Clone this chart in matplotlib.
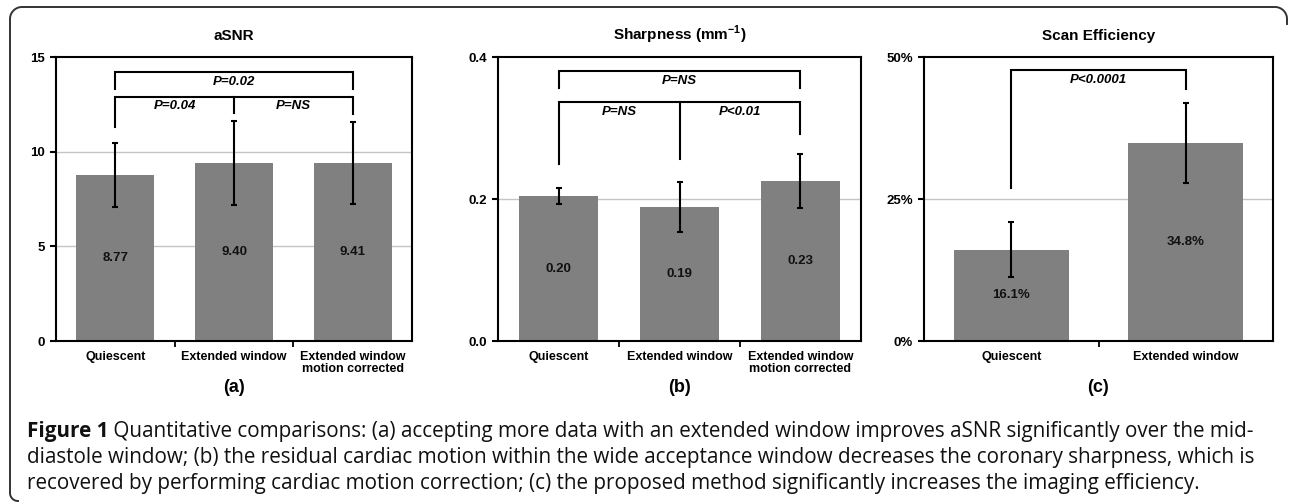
import matplotlib.pyplot as plt
from matplotlib.lines import Line2D
from matplotlib.transforms import IdentityTransform
import numpy as np

plt.rcParams['font.family'] = ['Liberation Sans', 'DejaVu Sans']
plt.rcParams['mathtext.fontset'] = 'custom'
plt.rcParams['mathtext.bf'] = 'Liberation Sans:bold'
plt.rcParams['mathtext.rm'] = 'Liberation Sans'

# Data
cats_3 = ['Quiescent', 'Extended window', 'Extended window\nmotion corrected']
cats_2 = ['Quiescent', 'Extended window']

asnr_mean = [8.77, 9.40, 9.41]
asnr_err = [1.7, 2.2, 2.15]
asnr_labels = ['8.77', '9.40', '9.41']

sharp_mean = [0.204, 0.189, 0.226]
sharp_err = [0.011, 0.035, 0.038]
sharp_labels = ['0.20', '0.19', '0.23']

eff_mean = [16.1, 34.9]
eff_err = [4.8, 7.0]
eff_labels = ['16.1%', '34.8%']

# brackets: (x0, x1, y, y_left_end, y_right_end, label, label_x, label_y, mid_x, mid_end)
asnr_brackets = [
    (0, 2, 14.2, 13.3, 13.3, 'P=0.02', 1.0, 13.7, None, None),
    (0, 2, 12.9, 11.3, 12.0, None, None, None, 1, 12.05),
]
asnr_plabels = [('P=0.04', 0.5, 12.4), ('P=NS', 1.5, 12.4)]

sharp_brackets = [
    (0, 2, 0.380, 0.357, 0.357, 'P=NS', 1.0, 0.366, None, None),
    (0, 2, 0.336, 0.249, 0.291, None, None, None, 1, 0.257),
]
sharp_plabels = [('P=NS', 0.5, 0.322), ('P<0.01', 1.5, 0.322)]

eff_brackets = [
    (0, 1, 47.7, 27.0, 44.3, 'P<0.0001', 0.5, 45.9, None, None),
]
eff_plabels = []

caption_bold = 'Figure 1'
caption_lines = [
    ' Quantitative comparisons: (a) accepting more data with an extended window '
    'improves aSNR significantly over the mid-',
    'diastole window; (b) the residual cardiac motion within the wide acceptance '
    'window decreases the coronary sharpness, which is',
    'recovered by performing cardiac motion correction; (c) the proposed method '
    'significantly increases the imaging efficiency.',
]

W, H = 1290, 503
fig = plt.figure(figsize=(W / 100, H / 100), dpi=100)
fig.patch.set_facecolor('white')


# Outer frame (top and left border with rounded corners), pixel coords from top
def arc(cx, cy, r, a0, a1, n=20):
    t = np.radians(np.linspace(a0, a1, n))
    return cx + r * np.cos(t), cy - r * np.sin(t)


r = 12
xs, ys = [], []
ax_, ay_ = arc(1287 - r, 7 + r, r, 0, 90)
xs += [1287]; ys += [24]
xs += list(ax_); ys += list(ay_)
bx_, by_ = arc(10 + r, 7 + r, r, 90, 180)
xs += list(bx_); ys += list(by_)
cx_, cy_ = arc(10 + 8, 493, 8, 180, 270)
xs += list(cx_); ys += list(cy_)
frame = Line2D(np.array(xs), H - np.array(ys), transform=IdentityTransform(),
               color='#333333', linewidth=1.4)
fig.add_artist(frame)


def px_axes(left, right, top, bottom):
    return fig.add_axes([left / W, (H - bottom) / H, (right - left) / W, (bottom - top) / H])


def draw_panel(ax, cats, means, errs, labels, ylim, yticks, yticklabels, title,
               brackets, plabels, letter):
    n = len(cats)
    x = np.arange(n)
    ax.bar(x, means, width=0.66, color='#808080', zorder=2)
    ax.errorbar(x, means, yerr=errs, fmt='none', ecolor='black', elinewidth=1.5,
                capsize=2.5, capthick=1.5, zorder=3)
    for xi, m, lab in zip(x, means, labels):
        ax.text(xi, m / 2, lab, ha='center', va='center', fontsize=9.5,
                fontweight='bold', color='#111111', zorder=4)
    ax.set_xlim(-0.5, n - 0.5)
    ax.set_ylim(*ylim)
    ax.set_yticks(yticks)
    ax.set_yticklabels(yticklabels, fontsize=9.5, fontweight='bold')
    ax.set_xticks(x)
    ax.set_xticklabels(cats, fontsize=9, fontweight='bold', linespacing=1.0)
    ax.tick_params(axis='x', which='major', length=0, pad=7)
    ax.set_xticks(np.arange(n - 1) + 0.5, minor=True)
    ax.tick_params(axis='x', which='minor', length=4, width=1.3, direction='out')
    ax.tick_params(axis='y', length=4, width=1.5, direction='out', pad=4)
    for s in ax.spines.values():
        s.set_linewidth(1.5)
    for yv in yticks[1:-1]:
        ax.axhline(yv, color='#c4c4c4', linewidth=1, zorder=1)
    ax.set_title(title, fontsize=11, fontweight='bold', pad=12)
    for (x0, x1, y, yl, yr, lab, lx, ly, mx, mend) in brackets:
        ax.plot([x0, x0, x1, x1], [yl, y, y, yr], color='black', linewidth=1.5,
                solid_joinstyle='miter', zorder=3)
        if mx is not None:
            ax.plot([mx, mx], [y, mend], color='black', linewidth=1.5, zorder=3)
        if lab is not None:
            ax.text(lx, ly, lab, ha='center', va='center', fontsize=9.5,
                    fontweight='bold', fontstyle='italic')
    for lab, lx, ly in plabels:
        ax.text(lx, ly, lab, ha='center', va='center', fontsize=9.5,
                fontweight='bold', fontstyle='italic')
    ax.text(0.5, -0.163, letter, transform=ax.transAxes, ha='center', va='center',
            fontsize=13, fontweight='bold')


ax_a = px_axes(56, 412, 57, 341)
draw_panel(ax_a, cats_3, asnr_mean, asnr_err, asnr_labels, (0, 15), [0, 5, 10, 15],
           ['0', '5', '10', '15'], 'aSNR', asnr_brackets, asnr_plabels, '(a)')

ax_b = px_axes(498, 861, 57, 341)
draw_panel(ax_b, cats_3, sharp_mean, sharp_err, sharp_labels, (0, 0.4), [0, 0.2, 0.4],
           ['0.0', '0.2', '0.4'], r'Sharpness (mm$^{\mathbf{-1}}$)', sharp_brackets,
           sharp_plabels, '(b)')

ax_c = px_axes(924, 1273, 57, 341)
draw_panel(ax_c, cats_2, eff_mean, eff_err, eff_labels, (0, 50), [0, 25, 50],
           ['0%', '25%', '50%'], 'Scan Efficiency', eff_brackets, eff_plabels, '(c)')

# Caption
cap_ax = fig.add_axes([0, 0, 1, 1])
cap_ax.axis('off')
cap_ax.set_xlim(0, W)
cap_ax.set_ylim(H, 0)
cap_font = ['Open Sans', 'DejaVu Sans']
cap_size = 13
baselines = [437, 463, 489]
t1 = cap_ax.text(27, baselines[0], caption_bold, fontweight='bold', va='baseline',
                 ha='left', fontsize=cap_size, family=cap_font, color='#111111')
t1b = cap_ax.annotate(caption_lines[0], xy=(1, 0), xycoords=t1, va='bottom', ha='left',
                      fontsize=cap_size, family=cap_font, color='#111111')
others = [cap_ax.text(27, b, line, va='baseline', ha='left', fontsize=cap_size,
                      family=cap_font, color='#111111')
          for b, line in zip(baselines[1:], caption_lines[1:])]

# fit the first caption line to the width it has in the reference (27 -> 1248 px)
fig.canvas.draw()
rend = fig.canvas.get_renderer()
w = t1b.get_window_extent(rend).x1 - t1.get_window_extent(rend).x0
scale = (1248 - 27) / w
for t in [t1, t1b] + others:
    t.set_fontsize(cap_size * scale)

fig.savefig('out.png', dpi=100)
